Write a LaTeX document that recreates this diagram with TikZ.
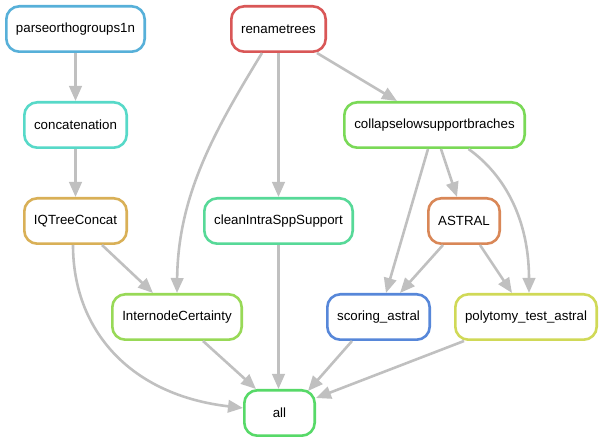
\documentclass[tikz,border=0pt]{standalone}
\usepackage{fontspec}
\setmainfont{Liberation Sans}
\usetikzlibrary{arrows.meta,calc}
\definecolor{cParse}{RGB}{87,176,217}
\definecolor{cRen}{RGB}{217,87,87}
\definecolor{cConc}{RGB}{87,217,200}
\definecolor{cColl}{RGB}{122,217,87}
\definecolor{cIQ}{RGB}{217,176,87}
\definecolor{cClean}{RGB}{87,217,152}
\definecolor{cAst}{RGB}{217,135,87}
\definecolor{cIC}{RGB}{152,217,87}
\definecolor{cScor}{RGB}{87,135,217}
\definecolor{cPoly}{RGB}{208,217,87}
\definecolor{cAll}{RGB}{87,217,104}
\definecolor{edgec}{RGB}{192,192,192}
\tikzset{
  rule/.style={draw=#1, line width=2.6pt, rounded corners=13pt, fill=white,
    minimum height=45.4pt, inner sep=0pt, align=center,
    font=\fontsize{13.3}{16}\selectfont},
  dep/.style={draw=edgec, line width=2.6pt, -{Triangle[length=15pt,width=12.5pt]}}
}
\begin{document}
\begin{tikzpicture}[x=1pt,y=-1pt]
\useasboundingbox (0,0) rectangle (603,443);
\node[rule=cParse, minimum width=138.4pt] (parse) at (75.5,29) {parseorthogroups1n};
\node[rule=cRen, minimum width=94.4pt] (ren) at (278.5,29) {renametrees};
\node[rule=cConc, minimum width=102.4pt] (conc) at (75.5,125) {concatenation};
\node[rule=cColl, minimum width=180.4pt] (coll) at (434.5,125) {collapselowsupportbraches};
\node[rule=cIQ, minimum width=102.4pt] (iq) at (75.5,221) {IQTreeConcat};
\node[rule=cClean, minimum width=148.4pt] (clean) at (278.5,221) {cleanIntraSppSupport};
\node[rule=cAst, minimum width=71.4pt] (ast) at (464,221) {ASTRAL};
\node[rule=cIC, minimum width=129.4pt] (ic) at (177,317) {InternodeCertainty};
\node[rule=cScor, minimum width=102.4pt] (scor) at (378.5,317) {scoring\_astral};
\node[rule=cPoly, minimum width=141.4pt] (poly) at (526,317) {polytomy\_test\_astral};
\node[rule=cAll, minimum width=70.4pt] (all) at (279.5,413) {all};

\draw[dep] (parse.south) -- (conc.north);
\draw[dep] (conc.south) -- (iq.north);
\draw[dep] ($(ren.south)+(38.5,0)$) -- ($(coll.north)+(-37.5,0)$);
\draw[dep] (ren.south) -- (clean.north);
\draw[dep] ($(ren.south)+(-16.5,0)$) .. controls (215,130) and (178,195) .. (ic.north);
\draw[dep] ($(iq.south)+(26.5,0)$) -- ($(ic.north)+(-24,0)$);
\draw[dep] ($(iq.south)+(-2.5,0)$) .. controls (73,330) and (130,395) .. ($(all.west)+(0,-5)$);
\draw[dep] ($(ic.south)+(26,0)$) -- ($(all.north)+(-23.5,0)$);
\draw[dep] (clean.south) -- (clean.south |- all.north);
\draw[dep] ($(coll.south)+(6.5,0)$) -- ($(ast.north)+(-7,0)$);
\draw[dep] ($(coll.south)+(-6.5,0)$) -- ($(scor.north)+(7.5,0)$);
\draw[dep] ($(ast.south)+(-21,0)$) -- ($(scor.north)+(21.5,0)$);
\draw[dep] ($(ast.south)+(16,0)$) -- ($(poly.north)+(-14,0)$);
\draw[dep] ($(coll.south)+(34,0)$) .. controls (505,175) and (529,220) .. ($(poly.north)+(3,0)$);
\draw[dep] ($(scor.south)+(-26.5,0)$) -- ($(all.north east)+(-8,2)$);
\draw[dep] ($(poly.south)+(-62,0)$) -- ($(all.east)+(0,-15)$);
\end{tikzpicture}
\end{document}
